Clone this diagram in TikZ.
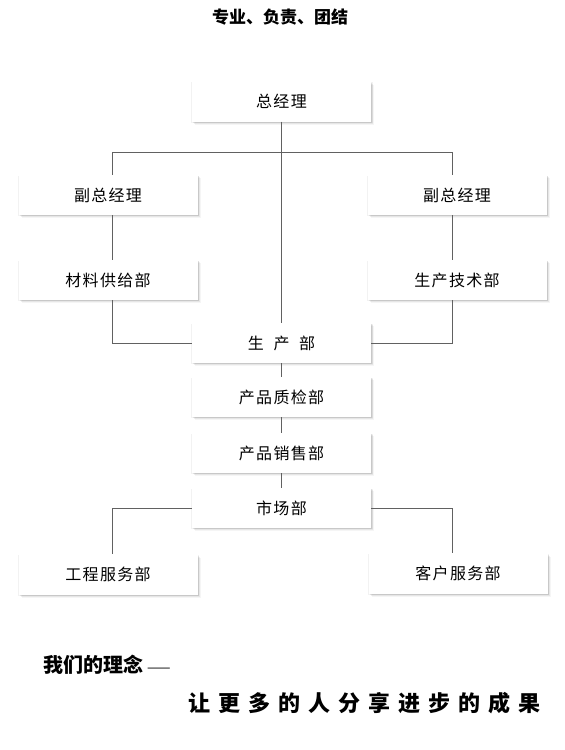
\documentclass[tikz,border=0pt]{standalone}
\usepackage{fontspec}
\setmainfont{Noto Sans CJK SC}
\newfontfamily\boxfont[LetterSpace=8]{Noto Sans CJK SC}
\usetikzlibrary{shadows}
\newcommand\gapc{\hspace{8pt}}
\begin{document}
\begin{tikzpicture}[x=1pt,y=-1pt,
  box/.style={fill=white, minimum width=179pt, minimum height=40pt, inner sep=0pt,
    font=\boxfont\fontsize{16}{16}\selectfont,
    general shadow={shadow xshift=3pt, shadow yshift=-3pt, fill=black, opacity=0.04},
    general shadow={shadow xshift=2pt, shadow yshift=-2pt, fill=black, opacity=0.06},
    general shadow={shadow xshift=1pt, shadow yshift=-1pt, fill=black, opacity=0.08},
    general shadow={shadow xshift=0.5pt, shadow yshift=-0.8pt, shadow scale=1.012, fill=black, opacity=0.05}},
  link/.style={draw=black!62, line width=1pt}]
\fill[white] (0,0) rectangle (565,750);
\useasboundingbox (0,0) rectangle (565,750);

\node[font=\bfseries\fontsize{17}{17}\selectfont] (title) at (280,17) {专业、负责、团结};

\coordinate (lx) at (112,152);
\coordinate (rx) at (452,152);

\node[box] (ceo) at (281.5,101.5) {总经理};
\node[box] (vpl) at (108,195) {副总经理};
\node[box] (vpr) at (457,195) {副总经理};
\node[box] (mat) at (108,280) {材料供给部};
\node[box] (tech) at (457,280) {生产技术部};
\node[box] (prod) at (281.5,343) {生\hspace{0.6em}产\hspace{0.6em}部};
\node[box] (qc) at (281.5,397) {产品质检部};
\node[box] (sales) at (281.5,453) {产品销售部};
\node[box] (mkt) at (281.5,508) {市场部};
\node[box] (eng) at (108,574.5) {工程服务部};
\node[box] (cust) at (458,573.5) {客户服务部};

\draw[link] (ceo.south) -- (prod.north);
\draw[link] (lx) -- (rx);
\draw[link] (lx) -- (lx |- vpl.north);
\draw[link] (rx) -- (rx |- vpr.north);
\draw[link] (lx |- vpl.south) -- (lx |- mat.north);
\draw[link] (rx |- vpr.south) -- (rx |- tech.north);
\draw[link] (lx |- mat.south) |- (prod.west);
\draw[link] (rx |- tech.south) |- (prod.east);
\draw[link] (prod.south) -- (qc.north);
\draw[link] (qc.south) -- (sales.north);
\draw[link] (sales.south) -- (mkt.north);
\draw[link] (mkt.west) -| (lx |- eng.north);
\draw[link] (mkt.east) -| (rx |- cust.north);

\node[anchor=west, inner sep=0pt, font=\bfseries\fontsize{20}{20}\selectfont] (motto) at (43,665)
  {我们的理念\hspace{4pt}{\mdseries\fontsize{14}{14}\selectfont ——}};
\node[anchor=west, inner sep=0pt, font=\bfseries\fontsize{22}{22}\selectfont] (slogan) at (188,703)
  {让\gapc 更\gapc 多\gapc 的\gapc 人\gapc 分\gapc 享\gapc 进\gapc 步\gapc 的\gapc 成\gapc 果};
\end{tikzpicture}
\end{document}
